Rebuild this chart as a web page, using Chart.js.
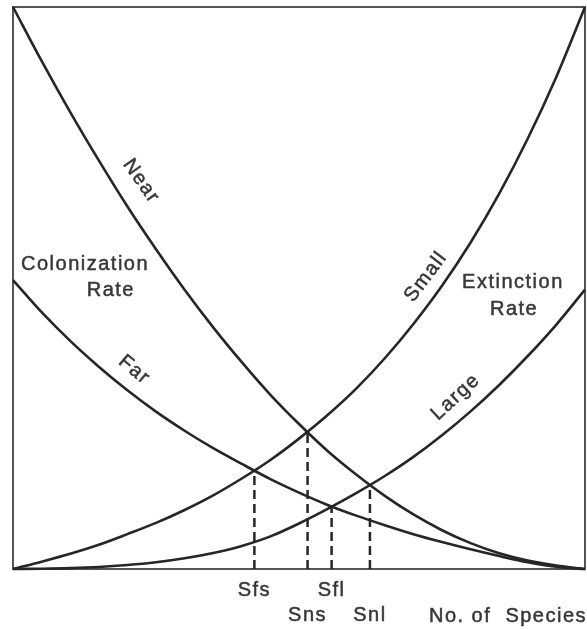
<!DOCTYPE html>
<html>
<head>
<meta charset="utf-8">
<script src="https://cdn.jsdelivr.net/npm/chart.js@4.4.0/dist/chart.umd.min.js"></script>
<style>
  html, body { margin: 0; padding: 0; background: #fff; }
  #chart { display: block; }
</style>
</head>
<body>
<canvas id="chart" width="587" height="629"></canvas>
<script>
// number of species (x) sampled every 5 units
const species = [0, 5, 10, 15, 20, 25, 30, 35, 40, 45, 50, 55, 60, 65, 70, 75, 80, 85, 90, 95, 100];

// colonization rate, near and far islands
const nearRate = [100, 90.4, 81.3, 72.7, 64.5, 56.9, 49.7, 43.0, 36.8, 31.0, 25.8, 21.0, 16.8, 13.0, 9.7, 6.9, 4.6, 2.8, 1.5, 0.6, 0];
const farRate = [51.4, 45.7, 40.6, 36.0, 31.8, 28.0, 24.6, 21.5, 18.7, 16.0, 13.6, 11.4, 9.5, 7.8, 6.2, 4.8, 3.5, 2.3, 1.2, 0.4, 0];

// extinction rate, small and large islands
const smallRate = [0, 1.3, 2.7, 4.3, 6.2, 8.2, 10.5, 13.1, 16.1, 19.4, 23.2, 27.4, 32.1, 37.5, 43.6, 50.4, 58.1, 66.8, 76.6, 87.6, 100];
const largeRate = [0, 0.05, 0.15, 0.35, 0.7, 1.2, 1.9, 2.85, 4.1, 5.8, 8.1, 10.7, 13.5, 16.55, 19.95, 23.8, 28.05, 32.75, 37.9, 43.5, 49.7];

// equilibrium points where the curves cross
const eqNames = ['Sfs', 'Sns', 'Sfl', 'Snl'];
const eqSpecies = [42.2, 51.5, 55.7, 62.4];
const eqRate = [17.6, 24.4, 11.1, 15.0];
const eqRow = [0, 1, 0, 1];

const INK = '#262626';
const TEXT = '#383838';
const FONT = '20px "Liberation Sans", Arial, sans-serif';

const toPoints = (ys) => species.map((x, i) => ({ x: x, y: ys[i] }));

const curve = (label, ys) => ({
    label: label,
    data: toPoints(ys),
    borderColor: INK,
    borderWidth: 2.6,
    pointRadius: 0,
    cubicInterpolationMode: 'monotone',
    clip: false
});

const dropLines = eqNames.map((name, i) => ({
    label: name,
    data: [{ x: eqSpecies[i], y: 0 }, { x: eqSpecies[i], y: eqRate[i] }],
    borderColor: INK,
    borderWidth: 2.5,
    borderDash: [9, 5],
    pointRadius: 0,
    clip: false
}));

// text placed along the curves (data coords) with rotation in degrees
const curveLabels = [
    { text: 'Near', x: 22.4, y: 69.0, rot: 55 },
    { text: 'Far', x: 21.2, y: 35.4, rot: 40 },
    { text: 'Small', x: 72.2, y: 52.0, rot: -53 },
    { text: 'Large', x: 77.4, y: 30.6, rot: -43 },
    { text: 'Colonization', x: 12.6, y: 54.1, rot: 0 },
    { text: 'Rate', x: 17.1, y: 49.5, rot: 0 },
    { text: 'Extinction', x: 87.4, y: 50.9, rot: 0 },
    { text: 'Rate', x: 87.6, y: 46.1, rot: 0 }
];

const framePlugin = {
    id: 'frame',
    beforeDatasetsDraw(chart) {
        const { ctx, chartArea: a } = chart;
        ctx.save();
        ctx.strokeStyle = '#555';
        ctx.lineWidth = 2;
        ctx.strokeRect(a.left, a.top, a.right - a.left, a.bottom - a.top);
        ctx.restore();
    }
};

const drawText = (ctx, text, x, y) => {
    ctx.fillText(text, x, y);
    ctx.strokeText(text, x, y);
};

const textPlugin = {
    id: 'texts',
    afterDraw(chart) {
        const { ctx, chartArea: a } = chart;
        const xs = chart.scales.x, ys = chart.scales.y;
        ctx.save();
        ctx.font = FONT;
        ctx.fillStyle = TEXT;
        ctx.strokeStyle = TEXT;
        ctx.lineWidth = 0.5;
        ctx.textAlign = 'center';
        ctx.textBaseline = 'middle';
        ctx.letterSpacing = '1.5px';

        curveLabels.forEach(l => {
            ctx.save();
            ctx.translate(xs.getPixelForValue(l.x), ys.getPixelForValue(l.y));
            ctx.rotate(l.rot * Math.PI / 180);
            drawText(ctx, l.text, 0, 0);
            ctx.restore();
        });

        eqNames.forEach((name, i) => {
            const px = xs.getPixelForValue(eqSpecies[i]);
            drawText(ctx, name, px, a.bottom + 21 + eqRow[i] * 25);
        });

        drawText(ctx, 'No. of  Species', 508, a.bottom + 47);
        ctx.restore();
    }
};

new Chart(document.getElementById('chart'), {
    type: 'line',
    data: {
        datasets: [
            curve('Near', nearRate),
            curve('Far', farRate),
            curve('Small', smallRate),
            curve('Large', largeRate),
            ...dropLines
        ]
    },
    options: {
        responsive: false,
        animation: false,
        layout: { padding: { left: 13, top: 7, right: 2, bottom: 60 } },
        plugins: { legend: { display: false }, tooltip: { enabled: false } },
        scales: {
            x: { type: 'linear', min: 0, max: 100, display: false },
            y: { type: 'linear', min: 0, max: 100, display: false }
        }
    },
    plugins: [framePlugin, textPlugin]
});
</script>
</body>
</html>
